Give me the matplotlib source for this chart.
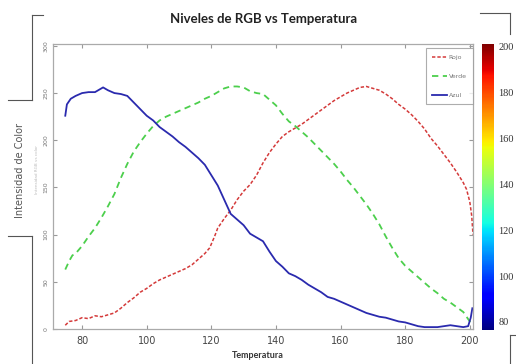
import matplotlib
matplotlib.use("Agg")
import matplotlib.pyplot as plt
import matplotlib.colors as mcolors
import matplotlib.colorbar as mcolorbar
from matplotlib.lines import Line2D

title = "Niveles de RGB vs Temperatura"
xlabel = "Temperatura"
ylabel = "Intensidad de Color"
legend_labels = ["Rojo", "Verde", "Azul"]

x_ticks = [80, 100, 120, 140, 160, 180, 200]
y_ticks = [0, 50, 100, 150, 200, 250, 300]
cbar_ticks = [80, 100, 120, 140, 160, 180, 200]

blue_t = [74.8, 75.3, 76.5, 78, 80, 82, 84, 86.5, 88, 90, 92, 94, 96, 98, 100, 102, 104, 106, 108,
          110, 112, 114, 116, 118, 120, 122, 124, 126, 128, 130, 132, 134, 136, 138, 140, 142, 144,
          146, 148, 150, 152, 154, 156, 158, 160, 162, 164, 166, 168, 170, 172, 174, 176, 178, 180,
          182, 184, 186, 188, 190, 192, 194, 196, 198, 199.5, 200.3, 200.8]
blue_v = [226, 238, 244, 247, 250, 251, 251, 256, 253, 250, 249, 247, 240, 233, 226, 221, 214, 209, 204,
          198, 193, 187, 181, 174, 163, 152, 137, 122, 116, 110, 101, 97, 93, 82, 72, 66, 59,
          56, 52, 47, 43, 39, 34, 32, 29, 26, 23, 20, 17, 15, 13, 12, 10, 8, 7,
          5, 3, 2, 2, 2, 3, 4, 3, 2, 3, 12, 22]

red_t = [74.8, 76, 78, 80, 82, 84, 86, 88, 90, 92, 94, 96, 98, 100, 102, 104, 106, 108, 110, 112,
         114, 116, 118, 119.5, 121, 122, 124, 126, 128, 130, 132, 134, 136, 138, 140, 142, 144, 146,
         148, 150, 152, 154, 156, 158, 160, 162, 164, 166, 168, 170, 172, 174, 176, 178, 180, 182,
         184, 186, 188, 190, 192, 194, 196, 198, 199, 200, 200.6, 201]
red_v = [4, 8, 9, 12, 11, 14, 13, 15, 17, 22, 28, 33, 39, 43, 48, 52, 55, 58, 61, 64,
         68, 74, 80, 86, 98, 107, 117, 126, 137, 146, 153, 163, 176, 187, 196, 204, 209, 213,
         217, 222, 227, 232, 237, 242, 246, 250, 253, 256, 257, 255, 253, 249, 244, 238, 233, 227,
         220, 212, 202, 194, 185, 176, 166, 155, 148, 135, 120, 100]

green_t = [74.8, 76, 77, 78, 80, 82, 84, 86, 88, 90, 92, 94, 96, 98, 100, 102, 104, 106, 108, 110,
           112, 114, 116, 118, 120, 122, 124, 126, 128, 130, 132, 134, 136, 138, 140, 142, 144, 146,
           148, 150, 152, 154, 156, 158, 160, 162, 164, 166, 168, 170, 172, 174, 176, 178, 180, 182,
           184, 186, 188, 190, 192, 194, 196, 198, 199, 200, 200.8]
green_v = [63, 72, 78, 80, 88, 98, 107, 118, 130, 143, 160, 175, 188, 198, 207, 215, 221, 225, 228, 231,
           234, 237, 240, 244, 247, 251, 255, 257, 257, 256, 252, 250, 249, 243, 237, 228, 220, 215,
           209, 203, 196, 189, 182, 175, 167, 158, 150, 141, 132, 122, 111, 98, 86, 75, 67, 61,
           55, 49, 43, 38, 32, 28, 23, 18, 13, 8, 5]

W, H = 516, 364
fig = plt.figure(figsize=(W / 100, H / 100), dpi=100)
fig.patch.set_facecolor("white")

ax = fig.add_axes([53 / W, 1 - 329 / H, (473 - 53) / W, (329 - 44) / H])
ax.plot(red_t, red_v, color="#d43a3a", lw=1.1, ls=(0, (2.2, 1.3)), label=legend_labels[0])
ax.plot(green_t, green_v, color="#4ccf4c", lw=1.3, ls=(0, (3.5, 2.5)), label=legend_labels[1])
ax.plot(blue_t, blue_v, color="#2a2aae", lw=1.3, ls="-", label=legend_labels[2])

ax.set_xlim(71, 201)
ax.set_ylim(0, 302)
ax.set_xticks(x_ticks)
ax.set_yticks(y_ticks)
ax.tick_params(axis="x", direction="in", top=True, length=3, labelsize=7, colors="#999999",
               labelcolor="#444444", pad=5)
ax.tick_params(axis="y", direction="in", right=True, length=3, labelsize=4.5, colors="#999999",
               labelcolor="#777777", labelrotation=90)
for lbl in ax.get_yticklabels():
    lbl.set_va("center")
for s in ax.spines.values():
    s.set_color("#aaaaaa")
    s.set_linewidth(0.9)

leg = ax.legend(loc="upper right", bbox_to_anchor=(1.0, 0.985), fontsize=4.5, frameon=True,
                fancybox=False, edgecolor="#999999", handlelength=2.4, labelspacing=2.2,
                borderpad=1.0, handletextpad=0.3, borderaxespad=0.0)
leg.get_frame().set_linewidth(0.8)
for t in leg.get_texts():
    t.set_color("#777777")

cax = fig.add_axes([482 / W, 1 - 330 / H, 12 / W, 286 / H])
norm = mcolors.Normalize(vmin=76.5, vmax=201.3)
cb = mcolorbar.ColorbarBase(cax, cmap=plt.get_cmap("jet"), norm=norm, orientation="vertical")
cb.set_ticks(cbar_ticks)
cb.outline.set_visible(False)
cax.tick_params(length=0, labelsize=7.5, pad=3, labelcolor="#333333")
for lbl in cax.get_yticklabels():
    lbl.set_family("Liberation Serif")

fig.text(264 / W, 1 - 19 / H, title, ha="center", va="center", fontsize=9.5,
         fontweight="bold", family="Lato", color="#222222")
fig.text(258 / W, 1 - 355 / H, xlabel, ha="center", va="center", fontsize=6.5,
         fontweight="bold", family="Lato", color="#333333")
fig.text(20 / W, 1 - 170 / H, ylabel, ha="center", va="center", rotation=90, fontsize=7,
         family="DejaVu Sans", color="#555555")
fig.text(37 / W, 1 - 170 / H, "Intensidad RGB vs color", ha="center", va="center", rotation=90,
         fontsize=3, color="#bbbbbb")

# surrounding document frame lines
frame = [
    ([32, 43], [15, 15]), ([32, 32], [15, 100]), ([8, 32], [100, 100]),
    ([8, 32], [236, 236]), ([32, 32], [236, 364]),
    ([480, 510], [13, 13]), ([510, 510], [13, 34]),
    ([510, 510], [335, 364]), ([510, 516], [335, 335]),
]
for xs, ys in frame:
    fig.add_artist(Line2D([x / W for x in xs], [1 - y / H for y in ys], color="#555555", lw=0.8))

fig.savefig("out.png", dpi=100)
